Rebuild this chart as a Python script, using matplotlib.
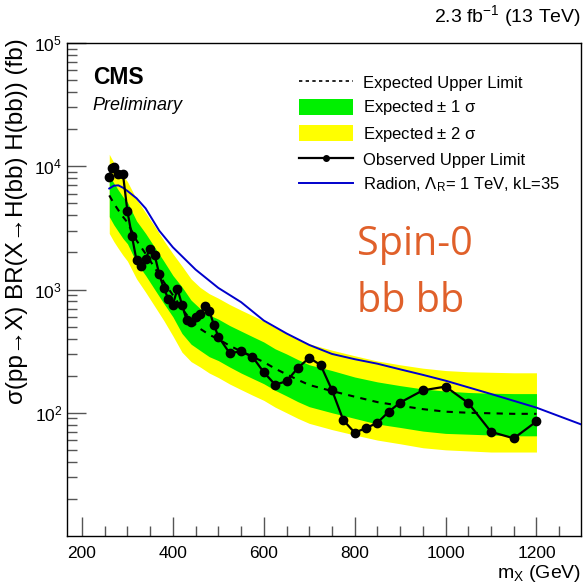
import matplotlib
matplotlib.use("Agg")
import matplotlib.pyplot as plt
from matplotlib.patches import Patch
from matplotlib.lines import Line2D
from matplotlib.ticker import LogLocator, MultipleLocator, NullFormatter, FixedLocator, LogFormatterSciNotation

plt.rcParams['font.family'] = ['Liberation Sans', 'DejaVu Sans']
plt.rcParams['mathtext.fontset'] = 'custom'
plt.rcParams['mathtext.rm'] = 'Liberation Sans'
plt.rcParams['mathtext.it'] = 'Liberation Sans:italic'

# Expected limit and bands
mass_exp = [260, 270, 280, 290, 300, 320, 340, 360, 380, 400, 420, 440, 460, 480, 500,
            525, 550, 575, 600, 625, 650, 675, 700, 750, 800, 850, 900, 950, 1000,
            1050, 1100, 1150, 1200]
expected = [5800, 5000, 4400, 3900, 3500, 2500, 1950, 1500, 1150, 900, 700, 560, 480, 430, 395,
            350, 315, 285, 258, 228, 205, 185, 168, 150, 135, 122, 114, 107, 102,
            100, 99, 98, 98]
green_up = [8400, 7300, 6400, 5650, 5100, 3600, 2850, 2200, 1700, 1300, 1050, 820, 700, 620, 575,
            510, 460, 415, 375, 330, 300, 270, 245, 220, 195, 178, 166, 156, 150,
            146, 144, 143, 143]
green_lo = [3900, 3350, 2950, 2600, 2350, 1650, 1300, 1000, 770, 600, 440, 360, 320, 285, 265,
            235, 210, 190, 172, 152, 137, 123, 112, 100, 90, 81, 76, 71, 68,
            67, 66, 65, 65]
yellow_up = [12500, 10700, 9500, 8400, 7500, 5400, 4200, 3250, 2500, 1950, 1550, 1220, 1040, 925, 850,
             755, 680, 615, 555, 490, 440, 400, 362, 322, 290, 263, 245, 230, 220,
             215, 213, 211, 211]
yellow_lo = [2850, 2450, 2150, 1900, 1700, 1220, 950, 730, 560, 420, 310, 260, 235, 210, 193,
             171, 154, 139, 126, 111, 100, 90, 82, 73, 66, 60, 56, 52, 50,
             49, 48, 48, 48]

# Observed limit
mass_obs = [260, 265, 270, 280, 290, 300, 310, 320, 330, 340, 350, 360, 370, 380, 390, 400,
            410, 420, 430, 440, 450, 460, 470, 480, 490, 500, 525, 550, 575, 600, 625,
            650, 675, 700, 725, 750, 775, 800, 825, 850, 875, 900, 950, 1000, 1050,
            1100, 1150, 1200]
observed = [8200, 9600, 9900, 8600, 8700, 4300, 2700, 1720, 1540, 1780, 2140, 1890, 1330, 1020, 840, 755,
            1010, 755, 567, 542, 596, 634, 728, 675, 519, 415, 304, 315, 285, 213, 169,
            180, 231, 279, 244, 153, 87, 69, 75, 83, 102, 121, 152, 163, 120,
            70, 62, 85]

# Radion theory curve
mass_rad = [260, 270, 280, 290, 300, 320, 340, 370, 400, 450, 500, 550, 600, 650, 700,
            750, 800, 850, 900, 950, 1000, 1100, 1200, 1300]
radion = [6600, 6950, 7000, 6700, 6300, 5500, 4550, 3000, 2200, 1450, 1030, 790, 560, 440, 355,
          300, 272, 250, 225, 203, 182, 142, 110, 80]

y_major = [1e2, 1e3, 1e4, 1e5]

fig = plt.figure(figsize=(5.84, 5.88), dpi=100)
ax = fig.add_axes([67/584, 1-536/588, (581-67)/584, (536-43)/588])

ax.fill_between(mass_exp, yellow_lo, yellow_up, color='#FFFF00', lw=0, zorder=1)
ax.fill_between(mass_exp, green_lo, green_up, color='#00F000', lw=0, zorder=2)
ax.plot(mass_exp, expected, color='black', ls=(0, (3, 3)), lw=1.5, zorder=3)
ax.plot(mass_rad, radion, color='#0000CC', lw=1.4, zorder=4)
ax.plot(mass_obs, observed, color='black', lw=1.6, marker='o', ms=6, zorder=5)

ax.set_yscale('log')
ax.set_xlim(167, 1298)
ax.set_ylim(10, 1e5)

ax.xaxis.set_major_locator(MultipleLocator(200))
ax.xaxis.set_minor_locator(MultipleLocator(50))
ax.yaxis.set_major_locator(FixedLocator(y_major))
ax.yaxis.set_major_formatter(LogFormatterSciNotation())
ax.yaxis.set_minor_locator(LogLocator(base=10, subs=range(2, 10), numticks=20))
ax.yaxis.set_minor_formatter(NullFormatter())
ax.tick_params(axis='both', which='major', direction='in', length=14, width=1, labelsize=12.5,
               top=False, right=False, color='#555555')
ax.tick_params(axis='both', which='minor', direction='in', length=7, width=1,
               top=False, right=False, color='#555555')
ax.tick_params(axis='x', pad=7)
for s in ax.spines.values():
    s.set_linewidth(1.0)

ax.set_xlabel('m$_{\\mathrm{X}}$ (GeV)', fontsize=14, loc='right', labelpad=2)
ax.set_ylabel('σ(pp→X) BR(X→H(bb) H(bb)) (fb)', fontsize=17.5, loc='top', labelpad=2)
ax.yaxis.set_label_coords(-0.076, 1.01, transform=ax.transAxes)
ax.yaxis.label.set_va('bottom')

fig.text(0.995, 0.972, '2.3 fb$^{-1}$ (13 TeV)', ha='right', va='center', fontsize=14)
ax.text(0.05, 0.93, 'CMS', transform=ax.transAxes, fontsize=16.5, fontweight='bold', va='center')
ax.text(0.05, 0.874, 'Preliminary', transform=ax.transAxes, fontsize=13, style='italic', va='center')
ax.text(0.565, 0.59, 'Spin-0', transform=ax.transAxes, fontsize=28.5, color='#E0602A',
        family=['Open Sans', 'DejaVu Sans'], va='center')
ax.text(0.565, 0.475, 'bb bb', transform=ax.transAxes, fontsize=28.5, color='#E0602A',
        family=['Open Sans', 'DejaVu Sans'], va='center')

handles = [
    Line2D([], [], color='black', ls=(0, (2, 2)), lw=1.2),
    Patch(facecolor='#00F000', edgecolor='none'),
    Patch(facecolor='#FFFF00', edgecolor='none'),
    Line2D([], [], color='black', lw=1.6, marker='o', ms=4),
    Line2D([], [], color='#0000CC', lw=1.4),
]
labels = ['Expected Upper Limit', 'Expected $\\pm$ 1 σ', 'Expected $\\pm$ 2 σ',
          'Observed Upper Limit', 'Radion, Λ$_{\\mathrm{R}}$= 1 TeV, kL=35']
ax.legend(handles, labels, loc='upper left', bbox_to_anchor=(0.452, 0.937), frameon=False,
          fontsize=12, handlelength=3.2, handleheight=1.1, labelspacing=0.45,
          handletextpad=0.6, borderaxespad=0.0, borderpad=0.0)

fig.savefig('out.png', dpi=100)
